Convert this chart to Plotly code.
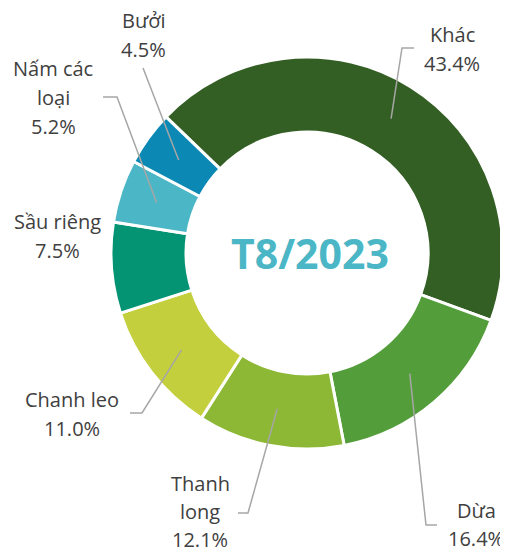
import math
import plotly.graph_objects as go

# ---- data ----
labels = ["Khác", "Dừa", "Thanh long", "Chanh leo", "Sầu riêng", "Nấm các loại", "Bưởi"]
values = [43.4, 16.4, 12.1, 11.0, 7.5, 5.2, 4.5]
label_lines = [["Khác"], ["Dừa"], ["Thanh", "long"], ["Chanh leo"], ["Sầu riêng"], ["Nấm các", "loại"], ["Bưởi"]]
colors = ["#345F24", "#539E3B", "#8CB835", "#C3CF3C", "#049474", "#4BB6C5", "#0B89B4"]
center_text = "T8/2023"

# ---- layout constants (pixels in the 508x553 window) ----
OFF = 8  # default page body margin
W, H = 508 - OFF, 553 - OFF
CX, CY = 307, 253
R_OUT, R_IN = 196, 121
ROT = -46
FONT = "Open Sans"
TXT = "#404040"
LEAD = "#A6A6A6"

# label block placement: (x center, first baseline, line step)
label_pos = [(452, 42, 29), (476, 518, 28), (200, 491, 28), (72, 407, 29),
             (57, 229, 29), (53, 76, 29), (143, 28, 29)]
# leader geometry after start point
leader_pts = [
    [(402, 48), (414, 48)],
    [(426, 525), (437, 525)],
    [(248, 513), (238, 513)],
    [(142, 413), (130, 413)],
    None,
    [(117, 97), (103, 97)],
    [(143, 68)],
]
FS = 20

def px(x):
    return (x - OFF) / W

def py(y):
    return 1 - (y - OFF) / H

fig = go.Figure()
fig.add_trace(go.Pie(
    labels=labels, values=values, sort=False, direction="clockwise",
    rotation=ROT, hole=R_IN / R_OUT,
    marker=dict(colors=colors, line=dict(color="white", width=3)),
    textinfo="none", hoverinfo="label+percent", showlegend=False,
    domain=dict(x=[px(CX - R_OUT), px(CX + R_OUT)], y=[py(CY + R_OUT), py(CY - R_OUT)]),
))

total = sum(values)
cum = 0.0
shapes = []
annotations = []
r_mid = (R_OUT + R_IN) / 2
for i, v in enumerate(values):
    mid = ROT + 360 * (cum + v / 2) / total
    cum += v
    th = math.radians(mid)
    sx = CX + r_mid * math.sin(th)
    sy = CY - r_mid * math.cos(th)
    pts = leader_pts[i]
    if pts:
        path = f"M {px(sx)},{py(sy)}" + "".join(f" L {px(x)},{py(y)}" for x, y in pts)
        shapes.append(dict(type="path", path=path, xref="paper", yref="paper",
                           line=dict(color=LEAD, width=1.5)))
    lx, ly, step = label_pos[i]
    lines = label_lines[i] + [f"{v:.1f}%"]
    for k, t in enumerate(lines):
        base = ly + k * step
        annotations.append(dict(text=t, x=px(lx), y=py(base - 7.8), xref="paper", yref="paper",
                                xanchor="center", yanchor="middle", showarrow=False, borderpad=0,
                                font=dict(family=FONT, size=FS, color=TXT)))

annotations.append(dict(text=f"<b>{center_text}</b>", x=px(310), y=py(252.5), xref="paper", yref="paper",
                        xanchor="center", yanchor="middle", showarrow=False,
                        font=dict(family=FONT, size=41, color="#4BB6C5")))

fig.update_layout(width=W, height=H, margin=dict(l=0, r=0, t=0, b=0),
                  paper_bgcolor="white", plot_bgcolor="white",
                  shapes=shapes, annotations=annotations)
fig.write_html("out.html")
